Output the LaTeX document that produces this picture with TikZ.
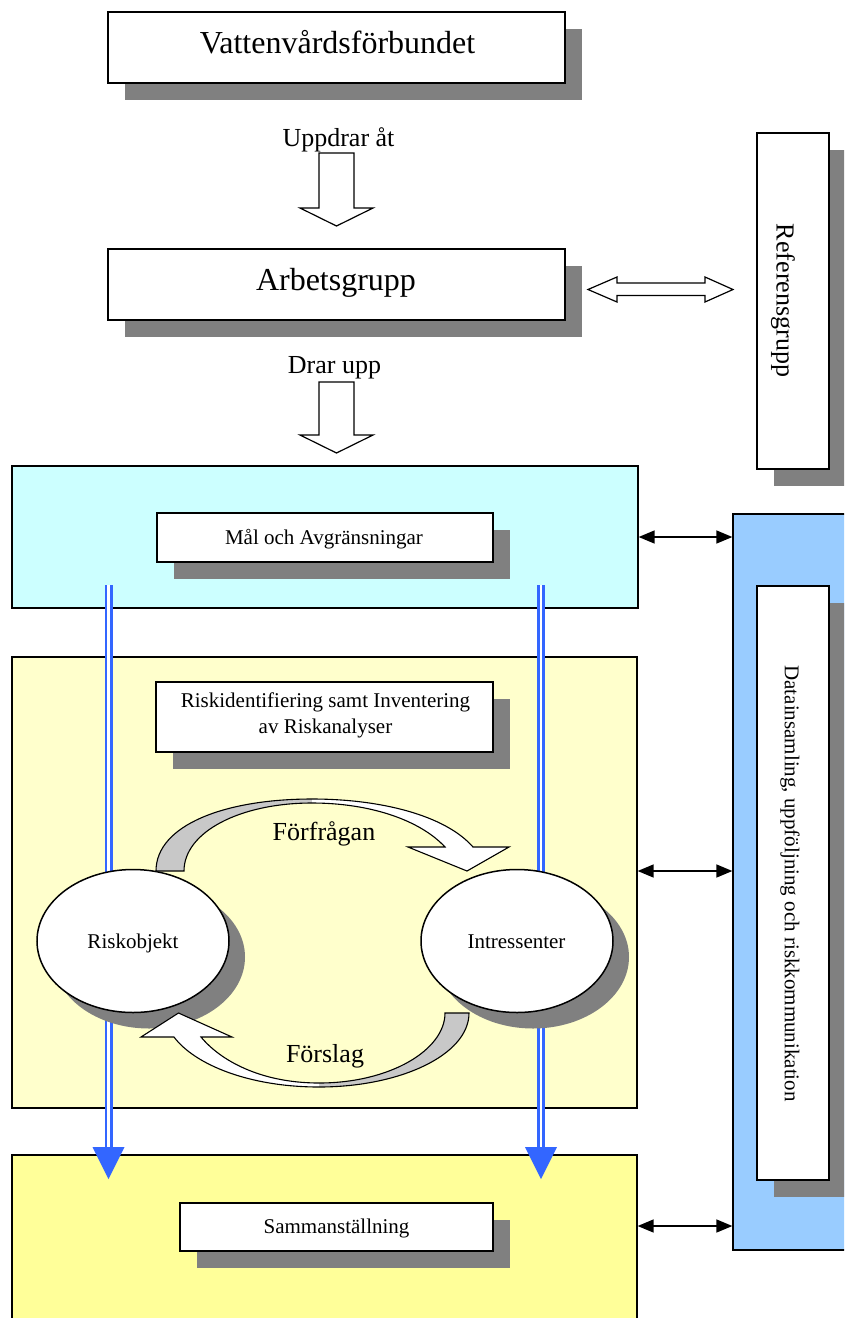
\documentclass[tikz,border=0pt]{standalone}
\usepackage{fontspec}
\setmainfont{Liberation Serif}
\usetikzlibrary{shapes.geometric,shadows,arrows.meta,calc}
\definecolor{cyanbox}{HTML}{CCFFFF}
\definecolor{ltyellow}{HTML}{FFFFCC}
\definecolor{yellowbox}{HTML}{FFFF99}
\definecolor{databox}{HTML}{99CCFF}
\definecolor{blueline}{HTML}{3366FF}
\definecolor{shadowgray}{HTML}{808080}
\definecolor{bandgray}{HTML}{C8C8C8}
\tikzset{
  sbox/.style={draw=black, line width=1.5pt, fill=white, inner sep=0pt,
    drop shadow={shadow xshift=16.5pt, shadow yshift=-16.5pt, fill=shadowgray, opacity=1}},
  panel/.style={draw=black, line width=1.3pt, inner sep=0pt},
  sellipse/.style={ellipse, draw=black, line width=1.5pt, fill=white, inner sep=0pt,
    minimum width=192pt, minimum height=143pt,
    drop shadow={shadow xshift=16pt, shadow yshift=-16pt, fill=shadowgray, opacity=1}},
  lbl/.style={inner sep=0pt, anchor=base},
  fbig/.style={font=\fontsize{32}{38}\selectfont},
  fmid/.style={font=\fontsize{26}{31}\selectfont},
  fsmall/.style={font=\fontsize{21}{26}\selectfont},
  hollow/.style={draw=black, line width=1.2pt, fill=white, line join=miter},
  bluedbl/.style={draw=blueline, double=white, double distance=2.4pt, line width=2.8pt},
  bluehead/.style={fill=blueline},
  linkarrow/.style={line width=1.5pt, {Triangle[length=16pt,width=13pt]}-{Triangle[length=16pt,width=13pt]}},
  band/.style={draw=black, line width=1.1pt, line join=miter},
}
\begin{document}
\begin{tikzpicture}[x=1pt, y=-1pt]
\useasboundingbox (0,0) rectangle (844,1318);
\clip (0,0) rectangle (844,1318);

% top part
\node[sbox, minimum width=457pt, minimum height=71pt] (vat) at (336.5,47.5) {};
\node[lbl, fbig] (tvat) at (337.5,53) {Vattenvårdsförbundet};
\node[lbl, fmid] (tupp) at (338.5,146) {Uppdrar åt};
\draw[hollow] (319,153) -- (354,153) -- (354,208) -- (373,208) -- (336.5,226) -- (300,208) -- (319,208) -- cycle;

\node[sbox, minimum width=457pt, minimum height=71pt] (arb) at (336.5,284.5) {};
\node[lbl, fbig] (tarb) at (336,290) {Arbetsgrupp};

\node[sbox, minimum width=72pt, minimum height=336pt] (ref) at (793,301) {};
\node[fmid, rotate=-90, inner sep=0pt] (tref) at (783,300.5) {Referensgrupp};

\draw[hollow] (588,289.5) -- (617,277) -- (617,283) -- (705,283) -- (705,277) -- (733,289.5)
  -- (705,302) -- (705,295.5) -- (617,295.5) -- (617,302) -- cycle;

\node[lbl, fmid] (tdrar) at (334.5,373) {Drar upp};
\draw[hollow] (319,382) -- (354,382) -- (354,435) -- (373,435) -- (336.5,453) -- (300,435) -- (319,435) -- cycle;

% panels
\node[panel, fill=cyanbox, minimum width=626pt, minimum height=142pt] (cyan) at (325,537) {};
\node[panel, fill=ltyellow, minimum width=625pt, minimum height=451pt] (lty) at (324.5,882.5) {};
\node[panel, fill=yellowbox, minimum width=625pt, minimum height=185pt] (yel) at (324.5,1247.5) {};
\node[panel, fill=databox, minimum width=150pt, minimum height=736pt] (data) at (808,882) {};

% inner boxes
\node[sbox, minimum width=336pt, minimum height=49pt] (mal) at (325,537.5) {};
\node[lbl, fsmall] (tmal) at (324,544) {Mål och Avgränsningar};
\node[sbox, minimum width=337pt, minimum height=70pt] (rid) at (324.5,717) {};
\node[fsmall, align=center, inner sep=0pt] (trid) at (325.5,715.2) {Riskidentifiering samt Inventering\\av Riskanalyser};
\node[sbox, minimum width=313pt, minimum height=48pt] (sam) at (336.5,1227) {};
\node[lbl, fsmall] (tsam) at (336.5,1233) {Sammanställning};
\node[sbox, minimum width=72pt, minimum height=594pt] (dat) at (793,883) {};
\node[fsmall, rotate=-90, inner sep=0pt] (tdat) at (790,883.5) {Datainsamling, uppföljning och riskkommunikation};

% link arrows to data box
\coordinate (a2) at (0,871);
\coordinate (a3) at (0,1226);
\draw[linkarrow] (cyan.east) -- (cyan.east -| data.west);
\draw[linkarrow] (lty.east |- a2) -- (data.west |- a2);
\draw[linkarrow] (yel.east |- a3) -- (data.west |- a3);

% blue double lines
\coordinate (l1s) at (108.5,585);
\coordinate (l1e) at (108.5,1149);
\coordinate (l2s) at (541,585);
\coordinate (l2e) at (541,1149);
\draw[bluedbl] (l1s) -- (l1e);
\draw[bluedbl] (l2s) -- (l2e);
\fill[bluehead] ($(l1e)+(-16,-2)$) -- ($(l1e)+(16,-2)$) -- ($(l1e)+(0,30)$) -- cycle;
\fill[bluehead] ($(l2e)+(-16,-2)$) -- ($(l2e)+(16,-2)$) -- ($(l2e)+(0,30)$) -- cycle;

% ellipses
\node[sellipse] (ro) at (133,941) {};
\node[lbl, fsmall] (tro) at (133,948) {Riskobjekt};
\node[sellipse] (int) at (517,941) {};
\node[lbl, fsmall] (tint) at (516.5,948) {Intressenter};

% curved arrow: Förfrågan
\fill[bandgray] (156,871) .. controls (156,825) and (225,799) .. (312,799)
  -- (312,803) .. controls (240,803) and (184,832) .. (184,871) -- cycle;
\fill[white] (312,799) .. controls (380,799) and (445,815) .. (473,847)
  -- (509,847) -- (467,871) -- (408,847) -- (445,847)
  .. controls (420,820) and (370,803) .. (312,803) -- cycle;
\draw[band] (156,871) .. controls (156,825) and (225,799) .. (312,799)
  .. controls (380,799) and (445,815) .. (473,847)
  -- (509,847) -- (467,871) -- (408,847) -- (445,847)
  .. controls (420,820) and (370,803) .. (312,803)
  .. controls (240,803) and (184,832) .. (184,871) -- cycle;
\node[lbl, fmid] (tfor) at (324,840) {Förfrågan};

% curved arrow: Förslag
\fill[bandgray] (469,1013) .. controls (469,1055) and (400,1087) .. (319,1087)
  -- (319,1083) .. controls (390,1083) and (445,1050) .. (445,1013) -- cycle;
\fill[white] (319,1087) .. controls (250,1087) and (195,1065) .. (174,1037)
  -- (141,1037) -- (178.5,1013) -- (232,1037) -- (201,1037)
  .. controls (220,1060) and (260,1083) .. (319,1083) -- cycle;
\draw[band] (469,1013) .. controls (469,1055) and (400,1087) .. (319,1087)
  .. controls (250,1087) and (195,1065) .. (174,1037)
  -- (141,1037) -- (178.5,1013) -- (232,1037) -- (201,1037)
  .. controls (220,1060) and (260,1083) .. (319,1083)
  .. controls (390,1083) and (445,1050) .. (445,1013) -- cycle;
\node[lbl, fmid] (tfsl) at (325,1062) {Förslag};
\end{tikzpicture}
\end{document}
